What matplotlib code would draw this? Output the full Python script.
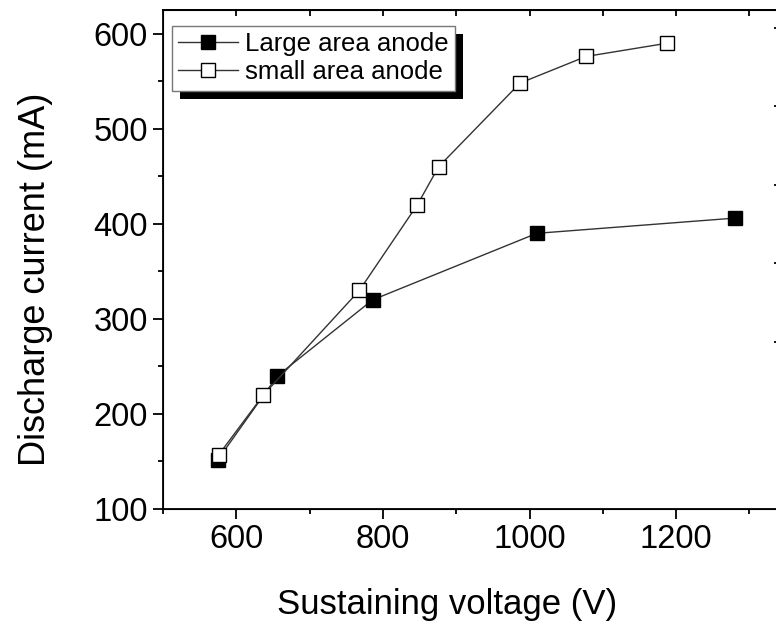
import matplotlib
matplotlib.use("Agg")
import matplotlib.pyplot as plt
from matplotlib.patches import Rectangle
from matplotlib.ticker import MultipleLocator

plt.rcParams["font.family"] = ["Liberation Sans", "DejaVu Sans"]

# data
large_v = [575, 656, 786, 1010, 1280]
large_i = [152, 240, 320, 390, 406]
small_v = [576, 637, 768, 847, 876, 987, 1077, 1188]
small_i = [157, 220, 330, 420, 460, 548, 576, 590]

x_ticks = [600, 800, 1000, 1200]
y_ticks = [100, 200, 300, 400, 500, 600]

fig = plt.figure(figsize=(7.76, 6.31), dpi=100)
ax = fig.add_axes([0.210, 0.1933, 0.803, 0.791])

line_kw = dict(color="#333333", lw=1.0, marker="s", markersize=9.5,
               markeredgewidth=1.0, markeredgecolor="black")
ax.plot(large_v, large_i, markerfacecolor="black", label="Large area anode", **line_kw)
ax.plot(small_v, small_i, markerfacecolor="white", label="small area anode", **line_kw)

ax.set_xlim(500, 1350)
ax.set_ylim(100, 625)
ax.set_xticks(x_ticks)
ax.set_yticks(y_ticks)
ax.xaxis.set_minor_locator(MultipleLocator(100))
ax.yaxis.set_minor_locator(MultipleLocator(50))
ax.tick_params(which="major", direction="out", length=7, width=1.3, labelsize=23.5, pad=4)
ax.tick_params(which="minor", direction="out", length=3.5, width=1.3)
for s in ax.spines.values():
    s.set_linewidth(1.3)

# top ticks point inward
top = ax.secondary_xaxis("top")
top.set_xticks(range(600, 1350, 100))
top.tick_params(direction="in", length=4, width=1.3, labeltop=False)
top.spines["top"].set_linewidth(1.3)

# right axis (cut off by the image edge), inward ticks only
right = ax.twinx()
right.set_ylim(-1.13, 5.23)
right.set_yticks([1, 2, 3, 4, 5])
right.tick_params(direction="in", length=9, width=1.3, labelright=False)

ax.set_xlabel("Sustaining voltage (V)", fontsize=25)
ax.set_ylabel("Discharge current (mA)", fontsize=26)
ax.xaxis.set_label_coords(0.456, -0.192)
ax.yaxis.set_label_coords(-0.205, 0.461)
ax.xaxis.label.set_va("center")
ax.yaxis.label.set_va("center")

leg = right.legend(*ax.get_legend_handles_labels(), loc="upper left",
                   bbox_to_anchor=(0.0145, 0.968), borderaxespad=0,
                   fontsize=18.5, handlelength=2.3, handletextpad=0.3,
                   labelspacing=0.15, borderpad=0.25, fancybox=False,
                   framealpha=1, edgecolor="#777777")
leg.get_frame().set_linewidth(1.0)

# black drop shadow behind the legend box
fig.canvas.draw()
bb = leg.get_window_extent()
shadow = Rectangle((bb.x0 + 8, bb.y0 - 8), bb.width, bb.height, transform=None,
                   facecolor="black", edgecolor="none", zorder=4.5, clip_on=False)
right.add_patch(shadow)

fig.savefig("out.png", dpi=100)
